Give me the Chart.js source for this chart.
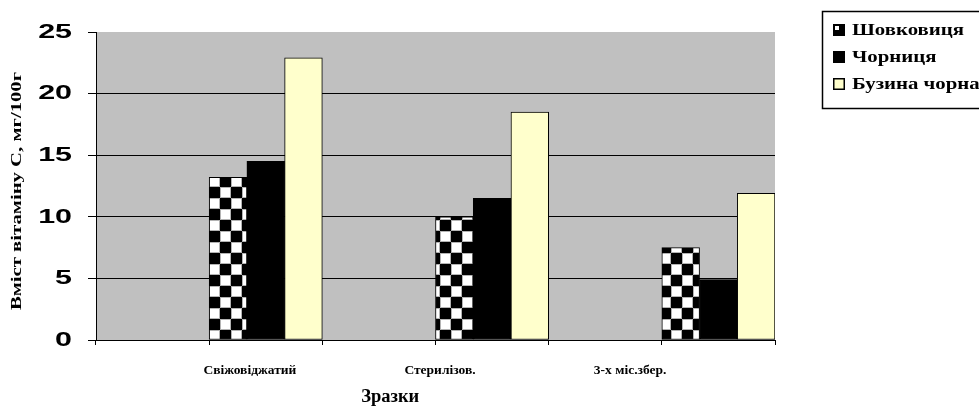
<!DOCTYPE html>
<html>
<head>
<meta charset="utf-8">
<script src="https://cdn.jsdelivr.net/npm/chart.js@4/dist/chart.umd.min.js"></script>
<style>
  html, body { margin: 0; padding: 0; background: #ffffff; overflow: hidden; }
  #wrap { width: 979px; height: 408px; position: relative; }
</style>
</head>
<body>
<div id="wrap"><canvas id="c" width="979" height="408"></canvas></div>
<script>
// Samples (x categories) and vitamin C content, mg/100g
const samples = ['Свіжовіджатий', 'Стерилізов.', '3-х міс.збер.'];
const seriesNames = ['Шовковиця', 'Чорниця', 'Бузина чорна'];
const shovkovytsia = [13.2, 10.0, 7.5];
const chornytsia = [14.5, 11.5, 4.9];
const buzyna = [22.9, 18.5, 11.9];
const yTicks = [0, 5, 10, 15, 20, 25];
const yTitle = 'Вміст вітаміну С, мг/100г';
const xTitle = 'Зразки';

const SERIF = '"Liberation Serif", "Times New Roman", serif';
const SANS = '"Liberation Sans", Arial, sans-serif';

// Each sample sits in every second slot of a six-slot category axis
function spread(values, filler) {
  const out = [];
  values.forEach(v => { out.push(filler); out.push(v); });
  return out;
}
const slots = spread(samples, '');

// Black/white checker fill
function checkerPattern() {
  const s = 11;
  const cv = document.createElement('canvas');
  cv.width = s * 2; cv.height = s * 2;
  const g = cv.getContext('2d');
  g.fillStyle = '#ffffff'; g.fillRect(0, 0, s * 2, s * 2);
  g.fillStyle = '#000000';
  g.fillRect(0, 0, s, s);
  g.fillRect(s, s, s, s);
  g.strokeStyle = 'rgba(128,128,128,0.6)';
  g.lineWidth = 1;
  g.strokeRect(s + 0.5, 0.5, s - 1, s - 1);
  g.strokeRect(0.5, s + 0.5, s - 1, s - 1);
  return g.createPattern(cv, 'repeat');
}
const checker = checkerPattern();

const fills = [checker, '#000000', '#FFFFCC'];
const seriesValues = [shovkovytsia, chornytsia, buzyna];

// Where the sample names and the axis title sit along the bottom (category-slot units)
const sampleLabelSlots = [1.36, 3.04, 4.72];
const xTitleSlot = 2.6;

// Draw text stretched along its reading direction
function wideText(ctx, text, x, y, sx, align) {
  ctx.save();
  ctx.translate(x, y);
  ctx.scale(sx, 1);
  ctx.textAlign = align;
  ctx.fillText(text, 0, 0);
  ctx.restore();
}

const plotBg = {
  id: 'plotBg',
  beforeDraw(chart) {
    const { ctx, chartArea: a } = chart;
    ctx.save();
    ctx.fillStyle = '#C0C0C0';
    ctx.fillRect(a.left, a.top, a.right - a.left, a.bottom - a.top);
    ctx.restore();
  }
};

// Axis texts: value labels and titles
const axisText = {
  id: 'axisText',
  afterDraw(chart) {
    const { ctx, chartArea: a } = chart;
    const y = chart.scales.y;
    const xl = chart.scales.xl;
    ctx.save();
    ctx.fillStyle = '#000000';
    ctx.textBaseline = 'middle';
    ctx.font = 'bold 21px ' + SANS;
    y.ticks.forEach(t => {
      wideText(ctx, String(t.value), y.right - 24, y.getPixelForValue(t.value), 1.45, 'right');
    });
    ctx.font = 'bold 15px ' + SERIF;
    ctx.save();
    ctx.translate(17, (a.top + a.bottom) / 2 + 5);
    ctx.rotate(-Math.PI / 2);
    wideText(ctx, yTitle, 0, 0, 1.38, 'center');
    ctx.restore();
    ctx.font = 'bold 18.5px ' + SERIF;
    ctx.fillText(xTitle, xl.getPixelForValue(xTitleSlot) - ctx.measureText(xTitle).width / 2, 397);
    ctx.restore();
  }
};

// Boxed legend at the top right
const boxLegend = {
  id: 'boxLegend',
  afterDraw(chart) {
    const { ctx } = chart;
    const x0 = 822, y0 = 11, w = 180, h = 97;
    ctx.save();
    ctx.fillStyle = '#ffffff';
    ctx.fillRect(x0, y0, w, h);
    ctx.strokeStyle = '#000000';
    ctx.lineWidth = 1.5;
    ctx.strokeRect(x0 + 0.5, y0 + 0.5, w, h);
    ctx.font = 'bold 16px ' + SERIF;
    ctx.textBaseline = 'middle';
    chart.data.datasets.forEach((ds, i) => {
      const cy = 30 + i * 27;
      const ms = 12, mx = 833, my = cy - 6;
      if (i === 0) {
        ctx.fillStyle = '#000000';
        ctx.fillRect(mx, my, ms, ms);
        ctx.fillStyle = '#ffffff';
        ctx.fillRect(mx + 2, my + 2, ms / 2 - 2, ms / 2 - 2);
      } else {
        ctx.fillStyle = ds.backgroundColor;
        ctx.fillRect(mx, my, ms, ms);
      }
      ctx.strokeStyle = '#000000';
      ctx.lineWidth = 1.5;
      ctx.strokeRect(mx + 0.75, my + 0.75, ms - 1.5, ms - 1.5);
      ctx.fillStyle = '#000000';
      wideText(ctx, ds.label, 852, cy + 1, 1.3, 'left');
    });
    ctx.restore();
  }
};

new Chart(document.getElementById('c'), {
  type: 'bar',
  data: {
    labels: slots,
    datasets: seriesNames.map((name, i) => ({
      label: name,
      data: spread(seriesValues[i], null),
      backgroundColor: fills[i],
      borderColor: '#000000',
      borderWidth: 1,
      borderSkipped: false,
      categoryPercentage: 1.0,
      barPercentage: 1.0
    }))
  },
  options: {
    responsive: false,
    devicePixelRatio: 1,
    animation: false,
    events: [],
    layout: { padding: { left: 0, top: 32, right: 204, bottom: 0 } },
    plugins: {
      legend: { display: false },
      tooltip: { enabled: false },
      title: { display: false }
    },
    scales: {
      x: {
        type: 'category',
        offset: true,
        position: 'bottom',
        grid: {
          offset: true,
          drawOnChartArea: false,
          drawTicks: true,
          tickLength: 5,
          color: '#000000',
          tickColor: '#000000',
          lineWidth: 1
        },
        border: { display: true, color: '#000000', width: 1 },
        ticks: { display: false },
        afterFit(s) { s.height = 6; }
      },
      xl: {
        type: 'linear',
        position: 'bottom',
        offset: false,
        min: 0,
        max: samples.length * 2,
        grid: { display: false, offset: false },
        border: { display: false },
        afterBuildTicks(s) {
          s.ticks = sampleLabelSlots.map(v => ({ value: v }));
        },
        ticks: {
          autoSkip: false,
          maxRotation: 0,
          padding: 8,
          color: '#000000',
          font: { family: SERIF, size: 13.5, weight: 'bold' },
          callback(value) {
            const k = sampleLabelSlots.indexOf(value);
            return k >= 0 ? samples[k] : '';
          }
        },
        title: { display: false },
        afterFit(s) { s.height = 62; }
      },
      y: {
        min: 0,
        max: 25,
        afterBuildTicks(s) {
          s.ticks = yTicks.map(v => ({ value: v }));
        },
        grid: {
          color: c => (c.tick && c.tick.value === 25) ? 'rgba(0,0,0,0)' : '#000000',
          tickColor: '#000000',
          tickLength: 8,
          lineWidth: 1
        },
        border: { display: true, color: '#000000', width: 1 },
        ticks: { display: false },
        title: { display: false },
        afterFit(s) { s.width = 96; }
      }
    }
  },
  plugins: [plotBg, axisText, boxLegend]
});
</script>
</body>
</html>
